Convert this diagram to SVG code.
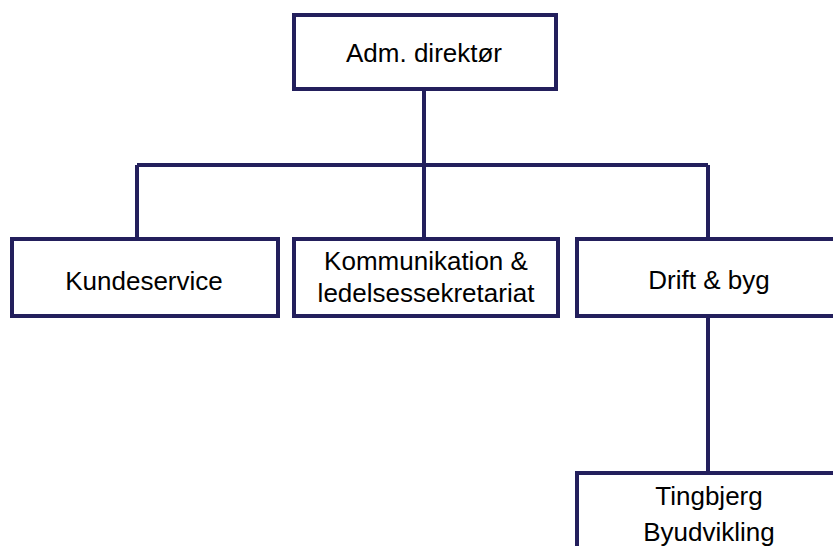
<svg xmlns="http://www.w3.org/2000/svg" width="833" height="546" viewBox="0 0 833 546">
<style>
.box{fill:#fff;stroke:#231f5c;stroke-width:4}
.ln{fill:none;stroke:#231f5c;stroke-width:4}
text{font-family:"Liberation Sans",Arial,sans-serif;font-size:26px;fill:#000;text-anchor:middle}
</style>
<rect width="833" height="546" fill="#fff"/>
<g id="connectors">
<path class="ln" d="M424 89V165M137 165H708M137 165V239M424 165V239M708 165V239M708 316V473"/>
</g>
<g id="adm"><rect class="box" x="294" y="15" width="262" height="74"/><text x="424" y="62">Adm. direktør</text></g>
<g id="kundeservice"><rect class="box" x="12" y="239" width="266" height="77"/><text x="144" y="290">Kundeservice</text></g>
<g id="kommunikation"><rect class="box" x="294" y="239" width="264" height="77"/><text x="426" y="270">Kommunikation &amp;</text><text x="426" y="302">ledelsessekretariat</text></g>
<g id="drift"><rect class="box" x="577" y="239" width="270" height="77"/><text x="709" y="289">Drift &amp; byg</text></g>
<g id="tingbjerg"><rect class="box" x="577" y="473" width="270" height="90"/><text x="709" y="505">Tingbjerg</text><text x="709" y="541">Byudvikling</text></g>
</svg>
